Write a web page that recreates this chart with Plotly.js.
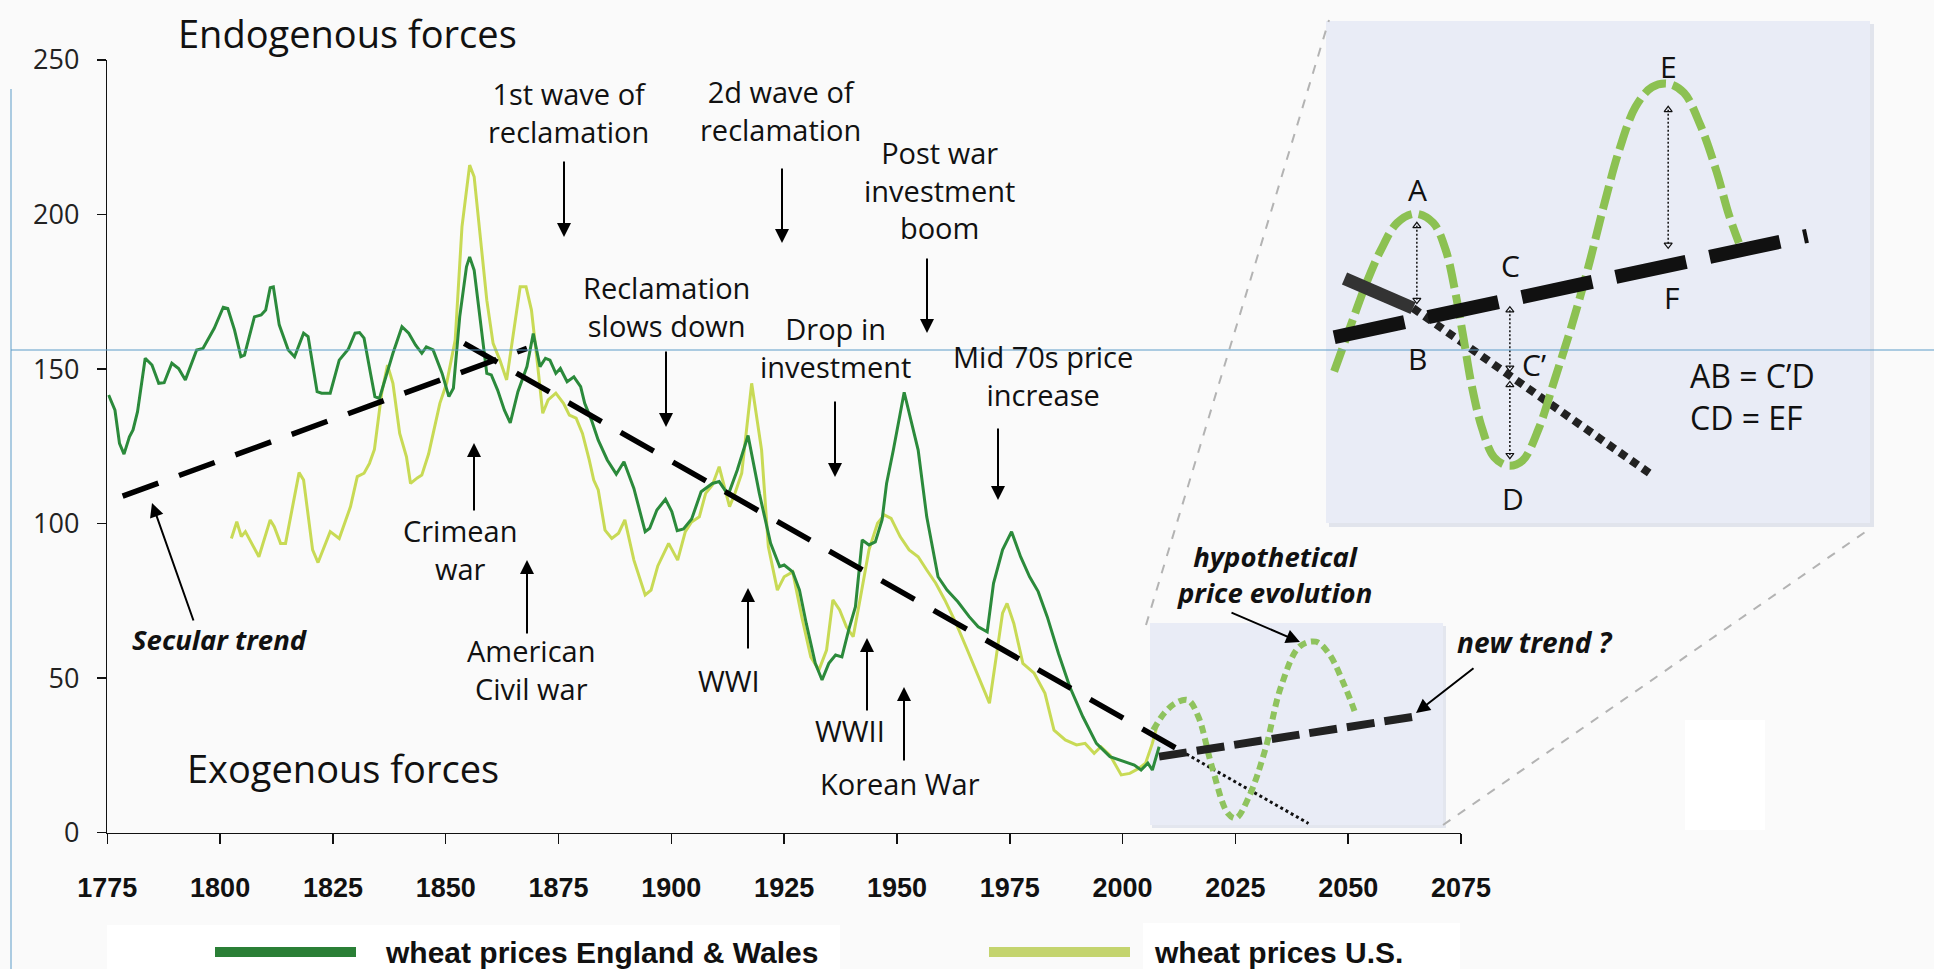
<!DOCTYPE html>
<html>
<head>
<meta charset="utf-8">
<script src="https://cdn.plot.ly/plotly-3.0.1.min.js"></script>
<style>
  html, body { margin: 0; padding: 0; background: #fafafa; }
  #chart { width: 1934px; height: 969px; }
</style>
</head>
<body>
<div id="chart"></div>
<script>
// ---------------- DATA ----------------
const tickYears = [1775, 1800, 1825, 1850, 1875, 1900, 1925, 1950, 1975, 2000, 2025, 2050, 2075];
const tickPrices = [0, 50, 100, 150, 200, 250];

const yearsEW = [1775.3,1776.7,1777.7,1778.7,1779.9,1780.7,1781.7,1783.4,1784.9,1786.4,1787.6,1789.3,1790.8,1792.3,1794.8,1796.2,1798.7,1800.7,1801.7,1803.2,1804.6,1805.4,1807.6,1809.1,1810.1,1811.1,1811.8,1813.1,1815.1,1816.5,1818.5,1819.5,1821.5,1822.5,1824.4,1826.4,1828.4,1829.9,1830.9,1831.9,1833.4,1834.3,1835.3,1838.3,1840.3,1841.8,1843.3,1844.7,1845.7,1847.2,1849.2,1850.7,1851.7,1853.1,1854.6,1855.3,1856.3,1857.6,1859.1,1860.1,1861.5,1863.0,1864.3,1866.0,1868.0,1869.4,1870.9,1872.1,1873.1,1874.4,1875.4,1876.9,1878.4,1879.9,1880.8,1882.3,1883.8,1885.8,1887.8,1889.5,1891.7,1894.2,1895.2,1896.8,1898.7,1900.1,1901.3,1902.7,1904.5,1906.6,1909.1,1910.6,1912.6,1914.6,1917.0,1919.5,1922.0,1924.0,1925.0,1926.9,1928.4,1929.9,1931.9,1933.4,1934.9,1936.4,1937.8,1939.3,1940.8,1942.3,1943.8,1945.2,1946.7,1947.7,1949.2,1951.6,1953.7,1954.7,1956.6,1959.1,1961.1,1963.5,1966.0,1968.0,1970.0,1971.4,1973.4,1975.4,1977.4,1979.4,1981.3,1983.3,1985.8,1988.3,1991.2,1994.2,1997.2,2000.2,2002.6,2004.1,2005.6,2006.6,2008.1];
const priceEW = [141.6,136.7,126.0,122.5,128.1,130.3,136.2,153.5,151.3,145.4,145.6,151.9,150.2,146.5,156.2,156.7,163.2,170.0,169.6,162.6,154.0,154.5,166.9,167.5,169.1,176.3,176.6,164.3,156.2,154.0,161.6,160.5,142.7,142.2,142.2,152.9,156.4,161.6,161.8,160.0,148.1,141.1,140.5,155.1,163.7,161.6,157.8,155.1,157.2,156.2,148.6,141.1,143.8,166.9,183.1,186.3,182.0,166.9,148.6,148.1,143.2,136.7,132.6,142.7,150.8,161.5,150.8,153.5,152.9,148.6,150.2,145.9,147.5,144.3,138.9,133.5,127.0,120.6,116.0,120.0,111.4,97.4,98.5,104.4,107.9,103.9,97.7,98.3,101.5,110.3,113.0,113.6,109.3,117.3,128.5,109.8,93.6,86.1,86.6,84.4,78.5,67.7,54.8,49.4,54.8,57.5,56.9,65.6,73.1,94.7,93.1,94.1,101.2,113.0,123.8,142.5,129.2,123.8,102.2,82.8,78.5,74.7,69.9,66.6,65.0,80.7,91.5,97.4,89.3,82.8,78.0,69.9,58.0,47.2,37.5,28.9,24.6,23.0,21.9,20.3,22.5,20.3,27.8];

const yearsUS = [1802.5,1803.7,1804.7,1805.6,1808.6,1811.1,1812.0,1813.4,1814.5,1817.5,1818.5,1820.5,1821.7,1824.4,1826.4,1828.9,1830.4,1831.9,1833.1,1834.2,1835.8,1837.1,1838.3,1839.8,1841.3,1842.2,1843.7,1844.7,1846.2,1848.7,1850.2,1852.1,1853.6,1855.3,1856.3,1857.6,1859.1,1860.5,1862.0,1863.5,1865.0,1866.5,1867.8,1869.0,1870.4,1871.5,1872.7,1874.4,1876.1,1877.4,1878.9,1880.3,1881.8,1882.8,1883.8,1885.3,1886.8,1888.3,1889.7,1891.7,1894.2,1895.5,1897.0,1899.4,1901.4,1903.1,1904.4,1906.2,1907.6,1909.1,1910.6,1911.6,1912.9,1914.1,1915.6,1917.8,1920.0,1921.5,1923.5,1925.0,1926.9,1928.9,1930.9,1932.7,1934.4,1935.8,1937.3,1938.8,1940.3,1941.8,1943.8,1945.7,1947.2,1948.7,1950.7,1952.7,1954.7,1956.6,1958.6,1960.6,1963.1,1965.6,1968.0,1970.5,1972.0,1973.4,1974.4,1975.9,1977.9,1980.4,1982.8,1984.8,1987.3,1989.8,1991.7,1993.7,1995.2,1997.2,1999.7,2001.6,2003.6,2005.1,2006.6,2007.6];
const priceUS = [95.2,100.6,95.8,97.4,89.3,101.2,99.0,93.6,93.6,116.5,114.1,91.5,87.4,97.4,95.2,105.5,115.2,116.3,119.5,124.0,142.2,151.3,145.4,129.2,121.6,113.0,114.8,115.7,122.5,138.9,145.4,159.4,196.0,216.0,212.2,193.9,172.3,158.3,152.9,146.5,161.6,176.6,176.6,169.1,150.8,135.7,140.0,142.2,138.9,135.1,134.1,129.2,120.6,114.1,110.9,97.9,95.2,96.9,101.2,88.2,76.9,78.5,86.3,93.6,88.2,97.4,100.4,102.2,109.8,112.5,118.4,113.0,105.5,109.8,116.3,145.4,123.8,92.5,78.5,82.8,84.4,69.9,56.9,52.6,59.1,75.3,72.1,66.6,63.4,75.3,91.5,100.1,102.8,101.7,95.8,91.5,89.3,85.0,80.7,75.3,67.7,59.1,50.5,41.9,56.9,71.0,74.2,67.7,54.8,51.6,45.1,33.2,30.0,28.4,28.9,25.7,27.8,25.1,18.7,19.2,20.8,22.5,28.9,34.3];

// trend lines (year, value)
const secularUpYears = [1778.4, 1868.0];
const secularUpValues = [108.9, 156.7];
const secularDownYears = [1854.1, 2013.0];
const secularDownValues = [158.3, 26.4];
const secularExtYears = [2013.0, 2041.2];
const secularExtValues = [26.4, 3.0];
const newTrendYears = [2008.1, 2064.4];
const newTrendValues = [24.6, 37.5];
const hypoYears = [2006.8, 2009.2, 2011.8, 2014.5, 2016.8, 2019.8, 2023.3, 2025.1, 2028.0, 2031.6, 2035.1, 2039.2, 2042.8, 2045.7, 2049.3, 2051.6];
const hypoValues = [33.2, 38.6, 42.0, 42.9, 37.5, 21.4, 6.3, 4.7, 11.6, 26.8, 47.2, 60.2, 61.8, 58.0, 47.2, 38.6];

// inset (schematic, 0-100 units)
const insetWaveX = [1.5,4.1,7.5,10.1,13.1,16.4,19.7,22.0,23.8,25.3,26.8,28.7,30.9,33.5,36.1,39.1,42.1,45.0,48.0,51.0,53.9,56.9,59.9,62.9,65.8,68.8,71.8,74.0,75.9];
const insetWaveY = [30.2,38.0,48.0,54.4,59.8,61.6,59.8,54.4,45.8,36.7,27.3,18.8,13.1,11.4,12.4,18.8,28.8,38.7,50.1,62.9,74.3,82.9,86.8,87.5,85.7,79.3,70.0,61.6,55.8];
const insetNewTrendX = [1.5, 88.5];
const insetNewTrendY = [37.0, 57.2];
const insetOldTrendX = [3.4, 16.0];
const insetOldTrendY = [48.7, 42.8];
const insetOldExtX = [16.0, 59.9];
const insetOldExtY = [42.8, 9.6];
const gapAB_X = [16.7, 16.7], gapAB_Y = [59.2, 44.4];
const gapCC_X = [33.8, 33.8], gapCC_Y = [42.4, 30.9];
const gapCD_X = [33.8, 33.8], gapCD_Y = [27.5, 13.5];
const gapEF_X = [62.9, 62.9], gapEF_Y = [82.3, 55.4];

// ---------------- LAYOUT HELPERS ----------------
const W = 1934, H = 969;
const PX = x => x / W;
const PY = y => 1 - y / H;
const FONT = "'Open Sans', 'Noto Sans', 'DejaVu Sans', sans-serif";
const BOLDFONT = "'Liberation Sans', Arial, sans-serif";

const EW_COLOR = '#2b8a3b';
const US_COLOR = '#c8da55';

const traces = [
  {x: yearsUS, y: priceUS, mode: 'lines', line: {color: US_COLOR, width: 3}},
  {x: yearsEW, y: priceEW, mode: 'lines', line: {color: EW_COLOR, width: 3}},
  {x: secularUpYears, y: secularUpValues, mode: 'lines', line: {color: '#000', width: 5.5, dash: '38px,22px'}},
  {x: secularDownYears, y: secularDownValues, mode: 'lines', line: {color: '#000', width: 5.5, dash: '38px,22px'}},
  {x: secularExtYears, y: secularExtValues, mode: 'lines', line: {color: '#111', width: 3, dash: '3px,3px'}},
  {x: hypoYears, y: hypoValues, mode: 'lines', line: {color: '#8fc35e', width: 6, dash: '8px,5px', shape: 'spline'}},
  {x: newTrendYears, y: newTrendValues, mode: 'lines', line: {color: '#222', width: 8, dash: '28px,10px'}},
  // inset
  {x: insetOldExtX, y: insetOldExtY, xaxis: 'x2', yaxis: 'y2', mode: 'lines', line: {color: '#222', width: 8, dash: '8px,6px'}},
  {x: insetWaveX, y: insetWaveY, xaxis: 'x2', yaxis: 'y2', mode: 'lines', line: {color: '#8cc152', width: 8, dash: '24px,7px', shape: 'spline'}},
  {x: insetNewTrendX, y: insetNewTrendY, xaxis: 'x2', yaxis: 'y2', mode: 'lines', line: {color: '#111', width: 14, dash: '72px,24px'}},
  {x: insetOldTrendX, y: insetOldTrendY, xaxis: 'x2', yaxis: 'y2', mode: 'lines', line: {color: '#333', width: 13}},
];
[[gapAB_X, gapAB_Y], [gapCC_X, gapCC_Y], [gapCD_X, gapCD_Y], [gapEF_X, gapEF_Y]].forEach(([gx, gy]) => {
  traces.push({x: gx, y: gy, xaxis: 'x2', yaxis: 'y2', mode: 'lines+markers',
    line: {color: '#111', width: 1.5, dash: '2px,2px'},
    marker: {symbol: ['triangle-up-open', 'triangle-down-open'], size: 7, color: '#111', line: {width: 1.2}}});
});
traces.forEach(t => { t.showlegend = false; t.hoverinfo = 'skip'; });

const annotations = [];
function txt(text, x, y, size, opts) {
  annotations.push(Object.assign({
    text: text, x: PX(x), y: PY(y), xref: 'paper', yref: 'paper',
    xanchor: 'center', yanchor: 'middle', showarrow: false,
    font: {family: FONT, size: size, color: '#111'}
  }, opts || {}));
}
function arrow(hx, hy, tx, ty) {
  annotations.push({
    text: '', x: PX(hx), y: PY(hy), xref: 'paper', yref: 'paper',
    ax: tx - hx, ay: ty - hy, axref: 'pixel', ayref: 'pixel',
    showarrow: true, arrowhead: 2, arrowsize: 1.4, arrowwidth: 2, arrowcolor: '#000', standoff: 0, startstandoff: 0
  });
}

txt('Endogenous forces', 347, 33, 38);
txt('Exogenous forces', 343, 768, 38);
txt('1st wave of<br>reclamation', 568, 112, 29);
txt('2d wave of<br>reclamation', 780, 111, 29);
txt('Post war<br>investment<br>boom', 939, 190, 29);
txt('Reclamation<br>slows down', 666, 306, 29);
txt('Drop in<br>investment', 835, 347, 29);
txt('Mid 70s price<br>increase', 1043, 375, 29);
txt('Crimean<br>war', 460, 549, 29);
txt('American<br>Civil war', 531, 669, 29);
txt('<b><i>Secular trend</i></b>', 220, 639, 27.5);
txt('WWI', 729, 680, 29);
txt('WWII', 850, 730, 29);
txt('Korean War', 900, 783, 29);
txt('<b><i>hypothetical<br>price evolution</i></b>', 1274, 574, 27.5);
txt('<b><i>new trend ?</i></b>', 1535, 642, 28);

arrow(564, 237, 564, 160);
arrow(782, 243, 782, 167);
arrow(927, 333, 927, 257);
arrow(666, 427, 666, 350);
arrow(835, 477, 835, 400);
arrow(998, 500, 998, 427);
arrow(474, 443, 474, 512);
arrow(527, 560, 527, 635);
arrow(152, 503, 194, 622);
arrow(748, 588, 748, 650);
arrow(867, 638, 867, 712);
arrow(904, 687, 904, 762);
arrow(1300, 642, 1230, 612);
arrow(1416, 713, 1475, 667);

// inset labels
txt('A', 1417, 189, 30);
txt('B', 1417, 358, 30);
txt('C', 1510, 265, 30);
txt('C’', 1534, 364, 30);
txt('D', 1513, 498, 30);
txt('E', 1668, 66, 30);
txt('F', 1671, 298, 30);
txt('AB = C’D', 1688, 376, 32, {xanchor: 'left'});
txt('CD = EF', 1688, 417, 32, {xanchor: 'left'});

// legend text
txt('wheat prices England &amp; Wales', 383, 952, 30, {xanchor: 'left', font: {family: BOLDFONT, size: 30, color: '#111', weight: 'bold'}});
txt('wheat prices U.S.', 1152, 952, 30, {xanchor: 'left', font: {family: BOLDFONT, size: 30, color: '#111', weight: 'bold'}});

const shapes = [
  // white patches
  {type: 'rect', xref: 'paper', yref: 'paper', x0: PX(107), x1: PX(840), y0: PY(925), y1: PY(969), fillcolor: '#ffffff', line: {width: 0}, layer: 'below'},
  {type: 'rect', xref: 'paper', yref: 'paper', x0: PX(1143), x1: PX(1460), y0: PY(923), y1: PY(969), fillcolor: '#ffffff', line: {width: 0}, layer: 'below'},
  {type: 'rect', xref: 'paper', yref: 'paper', x0: PX(1685), x1: PX(1765), y0: PY(720), y1: PY(830), fillcolor: '#ffffff', line: {width: 0}, layer: 'below'},
  // small highlight box
  {type: 'rect', xref: 'paper', yref: 'paper', x0: PX(1152), x1: PX(1446), y0: PY(626), y1: PY(828), fillcolor: '#e3e6ee', line: {width: 0}, layer: 'below'},
  {type: 'rect', xref: 'paper', yref: 'paper', x0: PX(1150), x1: PX(1443), y0: PY(623), y1: PY(825), fillcolor: '#e9ecf6', line: {width: 0}, layer: 'below'},
  // inset panel
  {type: 'rect', xref: 'paper', yref: 'paper', x0: PX(1329), x1: PX(1874), y0: PY(24), y1: PY(527), fillcolor: '#e1e4ec', line: {width: 0}, layer: 'below'},
  {type: 'rect', xref: 'paper', yref: 'paper', x0: PX(1326), x1: PX(1870), y0: PY(21), y1: PY(523), fillcolor: '#e9ecf6', line: {width: 0}, layer: 'below'},
  // connector lines
  {type: 'line', xref: 'paper', yref: 'paper', x0: PX(1146), y0: PY(625), x1: PX(1329), y1: PY(20), line: {color: '#b3b3b3', width: 2, dash: 'dash'}},
  {type: 'line', xref: 'paper', yref: 'paper', x0: PX(1443), y0: PY(825), x1: PX(1871), y1: PY(528), line: {color: '#b3b3b3', width: 2, dash: 'dash'}},
  // legend swatches
  {type: 'line', xref: 'paper', yref: 'paper', x0: PX(215), y0: PY(952), x1: PX(356), y1: PY(952), line: {color: '#2a7f36', width: 10}},
  {type: 'line', xref: 'paper', yref: 'paper', x0: PX(989), y0: PY(952), x1: PX(1130), y1: PY(952), line: {color: '#c4d46e', width: 10}},
  // blue guide lines
  {type: 'line', xref: 'paper', yref: 'paper', x0: PX(11), y0: PY(89), x1: PX(11), y1: 0, line: {color: '#5d9cc8', width: 1}},
  {type: 'line', xref: 'paper', yref: 'paper', x0: PX(11), y0: PY(350), x1: 1, y1: PY(350), line: {color: '#5d9cc8', width: 1}},
];

const layout = {
  width: W, height: H,
  margin: {l: 0, r: 0, t: 0, b: 0, pad: 0},
  paper_bgcolor: '#fafafa',
  plot_bgcolor: 'rgba(0,0,0,0)',
  showlegend: false,
  xaxis: {
    domain: [PX(107.3), PX(1461)], range: [1775, 2075],
    tickmode: 'array', tickvals: tickYears, ticktext: tickYears.map(String),
    ticks: 'outside', ticklen: 10, tickwidth: 1.5, tickcolor: '#111',
    showline: true, linecolor: '#111', linewidth: 1.5,
    showgrid: false, zeroline: false, ticklabelstandoff: 20,
    tickfont: {family: BOLDFONT, size: 27, color: '#111', weight: 'bold'},
    fixedrange: true
  },
  yaxis: {
    domain: [PY(832.7), PY(60)], range: [0, 250],
    tickmode: 'array', tickvals: tickPrices, ticktext: tickPrices.map(String),
    ticks: 'outside', ticklen: 9, tickwidth: 1.5, tickcolor: '#111',
    showline: true, linecolor: '#111', linewidth: 1.5,
    showgrid: false, zeroline: false, ticklabelstandoff: 12,
    tickfont: {family: FONT, size: 27, color: '#222'},
    fixedrange: true
  },
  xaxis2: {domain: [PX(1326), PX(1870)], range: [0, 100], visible: false, anchor: 'y2', fixedrange: true},
  yaxis2: {domain: [PY(523), PY(21)], range: [0, 100], visible: false, anchor: 'x2', fixedrange: true},
  shapes: shapes,
  annotations: annotations
};

Plotly.newPlot('chart', traces, layout, {displayModeBar: false, staticPlot: true});
</script>
</body>
</html>
